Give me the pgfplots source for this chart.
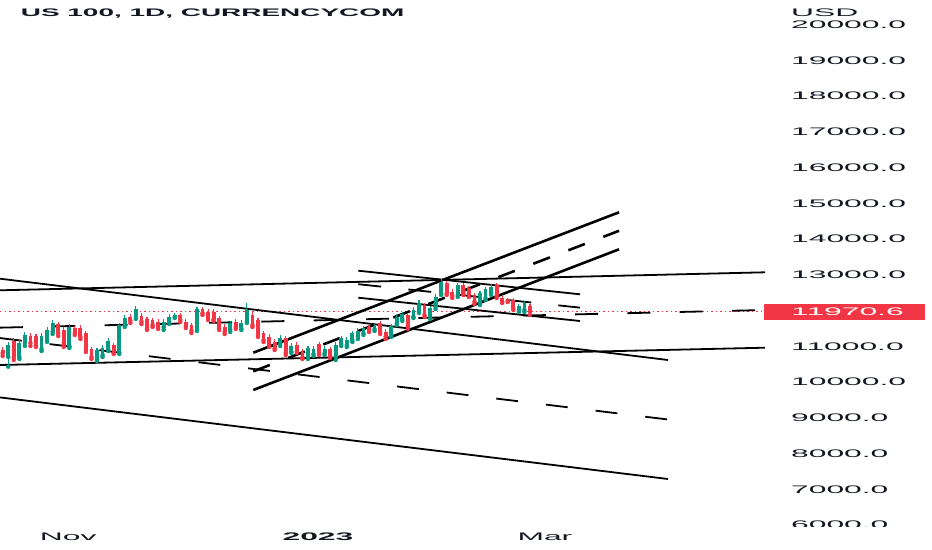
\documentclass[border=0pt]{standalone}
\usepackage{pgfplots}
\pgfplotsset{compat=1.18}
\usepackage{pgfplotstable}
\usepackage{fontspec}
\setmainfont{Liberation Sans}
\newfontfamily\tvax[FakeStretch=2.9]{Liberation Sans}
\newfontfamily\tvhead[FakeStretch=2.55]{Liberation Sans}
\definecolor{tvup}{HTML}{089981}
\definecolor{tvdown}{HTML}{F23645}
\definecolor{tvtext}{HTML}{131722}

% daily candles, k = bar number on screen
\pgfplotstableread{
k o h l c
1 10699 11119 10428 11035
3 10699 11175 10643 11091
4 11091 11399 11007 11315
7 10923 11370 10867 11295
8 11175 11539 11119 11455
9 11407 11734 11343 11659
12 11007 11622 10951 11547
17 10635 10951 10587 10895
18 10755 11035 10699 10959
19 10915 11231 10867 11155
21 10819 11650 10783 11594
22 11594 11874 11539 11782
24 11826 12126 11762 12034
29 11530 11762 11455 11687
30 11687 11902 11622 11826
31 11826 11930 11790 11874
35 11474 12098 11427 12034
41 11455 11706 11399 11642
43 11502 11734 11455 11659
44 11687 12201 11650 12014
50 11082 11315 11007 11239
52 10847 11091 10811 11007
55 10691 11007 10643 10943
56 10783 11007 10727 10915
58 10803 11007 10755 10923
60 10691 11119 10615 11035
61 11063 11287 11007 11222
62 11035 11259 10979 11175
63 11175 11427 11119 11362
64 11267 11510 11203 11435
65 11362 11566 11315 11502
67 11474 11622 11427 11566
70 11315 11622 11259 11566
71 11642 11902 11594 11826
72 11754 11958 11706 11894
74 11826 12098 11790 12014
75 11966 12294 11930 12218
77 11826 12126 11762 12061
78 12106 12462 12042 12386
79 12481 12881 12434 12806
82 12434 12769 12378 12713
86 12218 12545 12154 12481
87 12341 12657 12294 12593
88 12481 12741 12434 12666
93 12014 12182 11958 12126
94 12014 12266 11958 12201
}\upbars

\pgfplotstableread{
k o h l c
0 10895 10979 10727 10811
2 11155 11231 10615 10691
5 11295 11370 11007 11091
6 11287 11343 10979 11035
10 11614 11678 11287 11362
11 11455 11539 10979 11035
13 11510 11566 11315 11370
14 11519 11594 11203 11267
15 11370 11427 10839 10895
16 10923 10979 10643 10699
20 11035 11091 10783 10819
23 11826 11902 11650 11715
25 11846 11930 11622 11687
26 11754 11818 11455 11502
27 11734 11790 11539 11594
28 11687 11762 11483 11547
32 11874 11930 11678 11734
33 11687 11762 11510 11566
34 11594 11650 11370 11435
36 12034 12098 11874 11922
37 11966 12042 11734 11782
38 11966 12042 11706 11754
39 11782 11846 11455 11502
40 11547 11622 11343 11407
42 11687 11762 11483 11530
45 11874 11958 11539 11594
46 11734 11790 11259 11315
47 11362 11427 11119 11175
48 11267 11343 10979 11035
49 11127 11203 10895 10943
51 11222 11287 10755 10803
53 11035 11119 10811 10847
54 10847 10923 10643 10691
57 11063 11119 10755 10803
59 10915 10979 10671 10727
66 11547 11594 11399 11455
68 11642 11706 11343 11407
69 11407 11483 11203 11267
73 11874 11930 11483 11547
76 12154 12210 11818 11874
80 12761 12825 12434 12481
81 12526 12601 12350 12406
83 12713 12769 12434 12498
84 12621 12685 12378 12434
85 12434 12490 12182 12246
89 12713 12769 12350 12406
90 12341 12406 12210 12246
91 12313 12350 12238 12274
92 12294 12350 12014 12061
95 12126 12182 11874 11971
}\downbars

\pgfplotsset{
  wick/.style={color=#1, only marks, mark=none,
    error bars/y dir=plus, error bars/y explicit, error bars/error mark=none,
    error bars/error bar style={line width=1.1bp, draw=#1}},
  body/.style={color=#1, only marks, mark=none,
    error bars/y dir=plus, error bars/y explicit, error bars/error mark=none,
    error bars/error bar style={line width=3.8bp, draw=#1}},
  trend/.style={black, line width=1.8bp},
  steep/.style={black, line width=2.6bp},
}

\begin{document}
\begin{tikzpicture}
\useasboundingbox (0,0) rectangle (932bp,-550bp);
\begin{axis}[
    at={(0bp,-527bp)}, anchor=south west,
    width=766bp, height=527bp, scale only axis,
    xmin=-0.486, xmax=137.53,
    ymin=5944, ymax=20685.3,
    axis line style={draw=none},
    tick style={draw=none},
    yticklabel pos=right,
    ytick={6000,7000,8000,9000,10000,11000,13000,14000,15000,16000,17000,18000,19000,20000},
    yticklabels={6000.0,7000.0,8000.0,9000.0,10000.0,11000.0,13000.0,14000.0,15000.0,16000.0,17000.0,18000.0,19000.0,20000.0},
    xtick={11.8,56.8,97.7},
    xticklabels={Nov,\bfseries 2023,Mar},
    ticklabel style={font=\tvax\fontsize{11}{13}\selectfont, text=tvtext, inner sep=0pt},
    yticklabel style={anchor=west, xshift=25bp},
    xticklabel style={anchor=center, yshift=-10bp},
  ]
  % last price line
  \addplot[draw=tvdown, line width=1bp, dash pattern=on 1.5bp off 3bp]
    coordinates {(-0.486,11970.6) (137.53,11970.6)};

  % near-horizontal channel
  \addplot[trend] coordinates {(-0.486,12565) (137.35,13068.5)};
  \addplot[trend] coordinates {(-0.486,10475.5) (137.35,10959.3)};
  \addplot[trend, dash pattern=on 23bp off 29.3bp] coordinates {(-0.486,11520) (137.35,12014)};

  % long falling channel
  \addplot[trend] coordinates {(-0.486,12889.5) (119.87,10615.4)};
  \addplot[trend] coordinates {(-0.486,9569.2) (119.87,7286.7)};
  \addplot[trend, dash pattern=on 21.9bp off 28.1bp] coordinates {(-0.486,11229.4) (119.87,8951)};

  % rising channel
  \addplot[steep] coordinates {(45.15,10819.6) (111.05,14746.8)};
  \addplot[steep] coordinates {(45.15,9776.2) (111.05,13711.9)};
  \addplot[steep, dash pattern=on 17.7bp off 19.8bp] coordinates {(45.15,10297.9) (111.05,14229.4)};

  % short falling channel
  \addplot[trend] coordinates {(64.07,13113.3) (104.02,12453.1)};
  \addplot[trend] coordinates {(64.07,12358) (104.02,11706.3)};
  \addplot[trend, dash pattern=on 23bp off 27.3bp] coordinates {(64.07,12735.7) (104.02,12079.7)};

  % candles
  \addplot[wick=tvup] table[x=k, y=l, y error plus expr=\thisrow{h}-\thisrow{l}] {\upbars};
  \addplot[body=tvup] table[x=k, y=o, y error plus expr=\thisrow{c}-\thisrow{o}] {\upbars};
  \addplot[wick=tvdown] table[x=k, y=l, y error plus expr=\thisrow{h}-\thisrow{l}] {\downbars};
  \addplot[body=tvdown] table[x=k, y=c, y error plus expr=\thisrow{o}-\thisrow{c}] {\downbars};
\end{axis}
\fill[white] (766bp,-527bp) rectangle (932bp,-550bp);
\node[anchor=west, inner sep=0pt, text=tvtext, font=\tvhead\bfseries\fontsize{11}{13}\selectfont]
  at (20.7bp,-13.5bp) {US 100, 1D, CURRENCYCOM};
\node[anchor=west, inner sep=0pt, text=tvtext, font=\tvax\fontsize{11}{13}\selectfont]
  at (791bp,-13bp) {USD};
\fill[tvdown] (764bp,-303.5bp) rectangle (925bp,-319.5bp);
\node[anchor=west, inner sep=0pt, text=white, font=\tvax\fontsize{11}{13}\selectfont]
  at (791bp,-311.5bp) {11970.6};
\end{tikzpicture}
\end{document}
